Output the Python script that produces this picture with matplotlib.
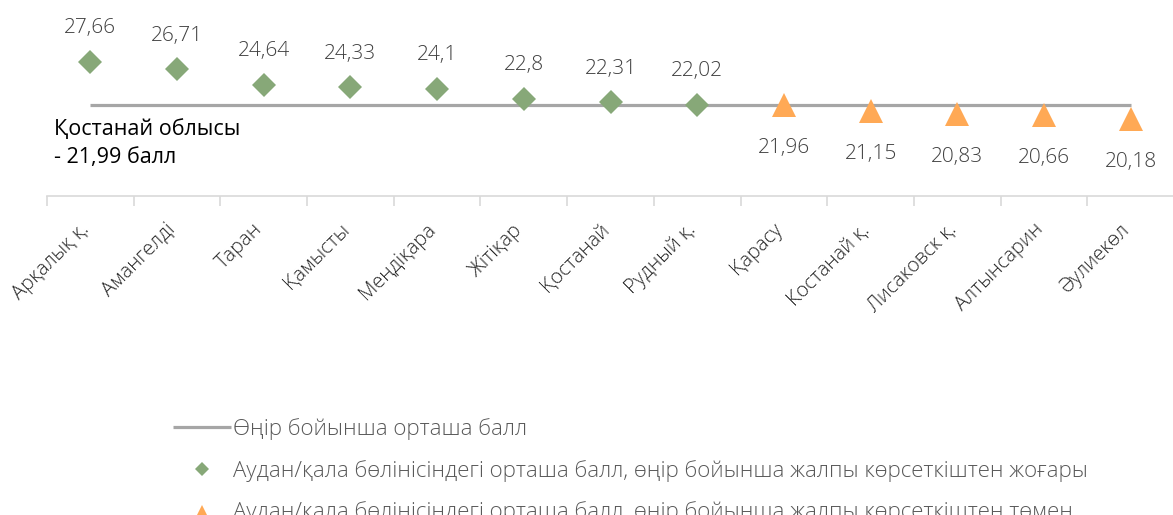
import matplotlib.pyplot as plt
from matplotlib.transforms import ScaledTranslation

plt.rcParams['font.family'] = ['Open Sans', 'DejaVu Sans']

districts = ['Арқалық қ.', 'Амангелді', 'Таран', 'Қамысты', 'Меңдіқара', 'Жітіқар',
             'Қостанай', 'Рудный қ.', 'Қарасу', 'Костанай қ.', 'Лисаковск қ.',
             'Алтынсарин', 'Әулиекөл']
scores = [27.66, 26.71, 24.64, 24.33, 24.1, 22.8, 22.31, 22.02,
          21.96, 21.15, 20.83, 20.66, 20.18]
score_labels = ['27,66', '26,71', '24,64', '24,33', '24,1', '22,8', '22,31', '22,02',
                '21,96', '21,15', '20,83', '20,66', '20,18']
region_avg = 21.99
n_above = 8

green = '#87A878'
orange = '#FFA955'
grey = '#A6A6A6'

fig = plt.figure(figsize=(11.73, 5.15), dpi=100)
ax = fig.add_axes([0.040, 0.619, 0.961, 0.296])

x = list(range(len(districts)))
line, = ax.plot(x, [region_avg] * len(x), color=grey, lw=2.3, zorder=1,
                solid_capstyle='butt')
dia, = ax.plot(x[:n_above], scores[:n_above], 'D', color=green, ms=12.5,
               mew=0, ls='none', zorder=3)
tri, = ax.plot(x[n_above:], scores[n_above:], '^', color=orange, ms=17,
               mew=0, ls='none', zorder=3)

for i in x:
    dy = 24 if i < n_above else -31
    ax.annotate(score_labels[i], (i, scores[i]), xytext=(0, dy),
                textcoords='offset points', ha='center', va='center',
                fontsize=15, fontweight='light', color='#404040',
                annotation_clip=False)

ax.text(0.006, 0.345, 'Қостанай облысы\n- 21,99 балл', transform=ax.transAxes,
        fontsize=15.5, color='black', va='center', ha='left', linespacing=1.45)

ax.set_xlim(-0.5, 12.5)
ax.set_ylim(10, 30)
for s in ['top', 'right', 'left']:
    ax.spines[s].set_visible(False)
ax.spines['bottom'].set_color('#D9D9D9')
ax.spines['bottom'].set_linewidth(1.2)
ax.set_yticks([])
ax.set_xticks([i - 0.5 for i in range(len(districts) + 1)])
ax.set_xticklabels([])
ax.tick_params(axis='x', which='major', length=7, color='#D9D9D9', width=1.2)
ax.set_xticks(x, minor=True)
ax.set_xticklabels(districts, minor=True, rotation=45, ha='right', va='center',
                   rotation_mode='anchor', fontsize=14.5, fontweight='light',
                   color='#262626')
ax.tick_params(axis='x', which='minor', length=0, pad=22)
shift = ScaledTranslation(-3 / 72, 0, fig.dpi_scale_trans)
for lab in ax.get_xticklabels(minor=True):
    lab.set_transform(lab.get_transform() + shift)

fig.legend([line, dia, tri],
           ['Өңір бойынша орташа балл',
            'Аудан/қала бөлінісіндегі орташа балл, өңір бойынша жалпы көрсеткіштен жоғары',
            'Аудан/қала бөлінісіндегі орташа балл, өңір бойынша жалпы көрсеткіштен төмен'],
           loc='upper left', bbox_to_anchor=(0.140, 0.205), frameon=False,
           prop={'size': 16, 'weight': 'light'}, labelcolor='#595959',
           handlelength=2.6, handletextpad=0.1, labelspacing=0.88,
           borderaxespad=0, markerscale=0.55)

fig.savefig('out.png', dpi=100)
